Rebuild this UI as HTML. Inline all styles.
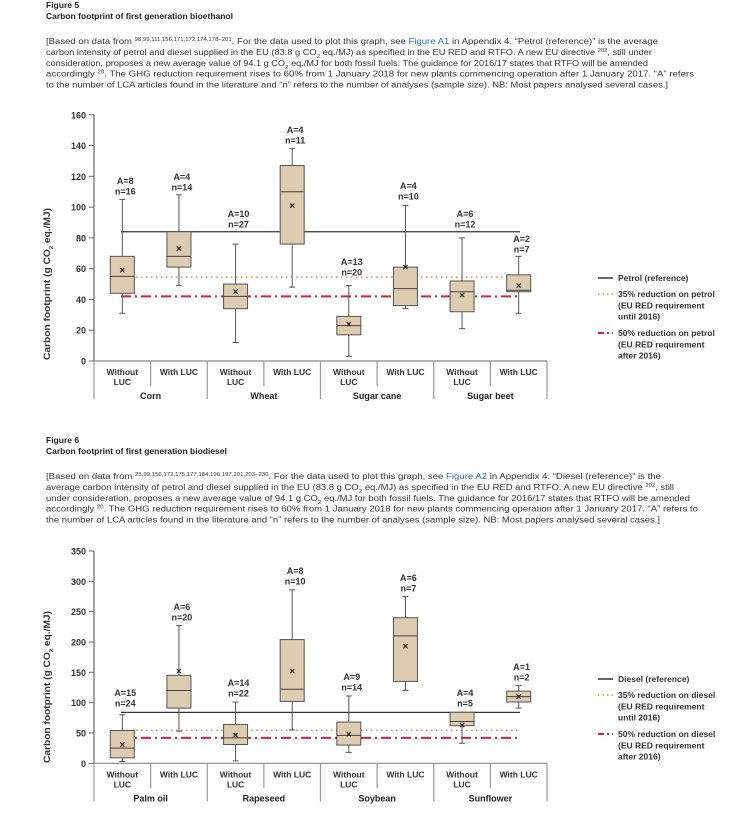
<!DOCTYPE html>
<html><head><meta charset="utf-8"><style>
html,body{margin:0;padding:0;background:#fff;}
svg{display:block;font-family:"Liberation Sans",sans-serif;}
</style></head><body>
<svg id="s" width="740" height="831" viewBox="0 0 740 831" xmlns="http://www.w3.org/2000/svg"></svg>
<script>
const S=document.getElementById('s');let h='';
function T(x,y,t,o){o=o||{};h+=`<text x="${x}" y="${y}" font-size="${o.fs||8}" font-weight="${o.fw||'normal'}" fill="${o.c||'#222'}" text-anchor="${o.a||'start'}"${o.tl?` textLength="${o.tl}" lengthAdjust="spacingAndGlyphs"`:''}${o.tr?` transform="${o.tr}"`:''}>${t}</text>`;}
function L(x1,y1,x2,y2,c,w,d){h+=`<line x1="${x1}" y1="${y1}" x2="${x2}" y2="${y2}" stroke="${c}" stroke-width="${w}"${d?` stroke-dasharray="${d}"`:''}/>`;}
const sup=s=>`<tspan font-size="5" baseline-shift="super">${s}</tspan>`;
const sub=s=>`<tspan font-size="5.5" baseline-shift="sub">${s}</tspan>`;
function header(y0,fig,title,lines,ends){
 T(46,y0+3,fig,{fw:'bold',fs:8.5});
 T(46,y0+14,title,{fw:'bold',fs:8.5});
 lines.forEach((l,i)=>T(46,y0+39+i*10.9,l,{fs:8,tl:ends[i]-46,c:'#333'}));
}
header(5,'Figure 5','Carbon footprint of first generation bioethanol',[
`[Based on data from ${sup('98,99,111,156,171,172,174,178–201')}. For the data used to plot this graph, see <tspan fill="#2a6fb8">Figure A1</tspan> in Appendix 4. “Petrol (reference)” is the average`,
`carbon intensity of petrol and diesel supplied in the EU (83.8 g CO${sub('2')} eq./MJ) as specified in the EU RED and RTFO. A new EU directive ${sup('202')}, still under`,
`consideration, proposes a new average value of 94.1 g CO${sub('2')} eq./MJ for both fossil fuels. The guidance for 2016/17 states that RTFO will be amended`,
`accordingly ${sup('20')}. The GHG reduction requirement rises to 60% from 1 January 2018 for new plants commencing operation after 1 January 2017. “A” refers`,
`to the number of LCA articles found in the literature and “n” refers to the number of analyses (sample size). NB: Most papers analysed several cases.]`],[658,652,648,694,668]);
header(440,'Figure 6','Carbon footprint of first generation biodiesel',[
`[Based on data from ${sup('25,99,156,172,175,177,184,190,197,201,203–230')}. For the data used to plot this graph, see <tspan fill="#2a6fb8">Figure A2</tspan> in Appendix 4. “Diesel (reference)” is the`,
`average carbon intensity of petrol and diesel supplied in the EU (83.8 g CO${sub('2')} eq./MJ) as specified in the EU RED and RTFO. A new EU directive ${sup('202')}, still`,
`under consideration, proposes a new average value of 94.1 g CO${sub('2')} eq./MJ for both fossil fuels. The guidance for 2016/17 states that RTFO will be amended`,
`accordingly ${sup('20')}. The GHG reduction requirement rises to 60% from 1 January 2018 for new plants commencing operation after 1 January 2017. “A” refers to`,
`the number of LCA articles found in the literature and “n” refers to the number of analyses (sample size). NB: Most papers analysed several cases.]`],[661,674,690,698,660]);

function chart(c){
 const X0=94,X1=547,cw=(X1-X0)/8,Y=v=>c.y0-(v)*c.k;
 const yTop=Y(c.max);
 L(X0,yTop,X0,c.y0,'#666',1.2);
 for(let v=0;v<=c.max;v+=c.step){L(89,Y(v),X0,Y(v),'#666',1);T(86,Y(v)+3.5,v,{a:'end',fs:9,fw:'bold',c:'#333'});}
 L(X0,c.y0,X1,c.y0,'#888',1.2);
 for(let i=0;i<=8;i++){const x=X0+i*cw;L(x,c.y0,x,i%2==0?c.y0+38:c.y0+25,'#999',1.2);}
 T(50,c.ly,`Carbon footprint (g CO${sub('2')} eq./MJ)`,{fw:'bold',fs:9.5,a:'middle',tl:152,tr:`rotate(-90 50 ${c.ly})`,c:'#333'});
 L(121,Y(84),520,Y(84),'#333',1.2);
 L(121,Y(54.5),520,Y(54.5),'#f08a3c',1.5,'1.5 3.5');
 L(121,Y(42),520,Y(42),'#e01b35',2,'10 4 2 4');
 c.d.forEach((d,i)=>{
  const cx=X0+cw*(i+0.5),bw=24;
  L(cx,Y(d[0]),cx,Y(d[1]),'#555',1);
  L(cx-3,Y(d[0]),cx+3,Y(d[0]),'#555',1);L(cx-3,Y(d[1]),cx+3,Y(d[1]),'#555',1);
  h+=`<rect x="${cx-bw/2}" y="${Y(d[3])}" width="${bw}" height="${Y(d[2])-Y(d[3])}" fill="#ddccb0" stroke="#555" stroke-width="1"/>`;
  L(cx-bw/2,Y(d[4]),cx+bw/2,Y(d[4]),'#444',1);
  T(cx,Y(d[5])+3.5,'×',{a:'middle',fs:10,fw:'bold',c:'#222'});
  T(cx+3,d[6],d[7],{a:'middle',fs:9,fw:'bold',c:'#333'});
  T(cx+3,d[6]+10.5,d[8],{a:'middle',fs:9,fw:'bold',c:'#333'});
  if(i%2==0){T(cx,c.y0+14,'Without',{a:'middle',fs:8.5,fw:'bold',c:'#333'});T(cx,c.y0+24,'LUC',{a:'middle',fs:8.5,fw:'bold',c:'#333'});}
  else T(cx,c.y0+14,'With LUC',{a:'middle',fs:8.5,fw:'bold',c:'#333'});
 });
 c.g.forEach((g,i)=>T(X0+cw*(2*i+1),c.y0+38,g,{a:'middle',fs:9,fw:'bold',c:'#222'}));
 const ly=c.leg;
 L(598,ly,613,ly,'#333',1.5);T(618,ly+3,c.ref,{fw:'bold',fs:8.5,c:'#333'});
 L(598,ly+16,613,ly+16,'#f08a3c',1.5,'1.5 3');
 ['35% reduction on '+c.f,'(EU RED requirement','until 2016)'].forEach((t,j)=>T(618,ly+19+j*11.3,t,{fw:'bold',fs:8.5,c:'#333'}));
 L(598,ly+55,613,ly+55,'#e01b35',2,'6 3 2 3');
 ['50% reduction on '+c.f,'(EU RED requirement','after 2016)'].forEach((t,j)=>T(618,ly+58+j*11.3,t,{fw:'bold',fs:8.5,c:'#333'}));
}
chart({y0:361,k:1.539,max:160,step:20,ly:284,leg:278,ref:'Petrol (reference)',f:'petrol',g:['Corn','Wheat','Sugar cane','Sugar beet'],d:[
[31,105,44,68,55,59,184,'A=8','n=16'],
[49,108,61,84,68,73,180,'A=4','n=14'],
[12,76,34,50,42,45,217,'A=10','n=27'],
[48,138,76,127,110,101,133,'A=4','n=11'],
[3,49,17,29,23,24,265,'A=13','n=20'],
[34,101,36,61,47,61,189,'A=4','n=10'],
[21,80,32,52,45,43,217,'A=6','n=12'],
[31,68,45,56,46,49,242,'A=2','n=7']]});
chart({y0:763.3,k:0.6066,max:350,step:50,ly:687,leg:679,ref:'Diesel (reference)',f:'diesel',g:['Palm oil','Rapeseed','Soybean','Sunflower'],d:[
[3,80,9,54,25,31,696,'A=15','n=24'],
[53,227,91,145,120,152,610,'A=6','n=20'],
[4,101,31,64,42,47,686,'A=14','n=22'],
[55,286,102,204,122,152,574,'A=8','n=10'],
[18,111,30,68,46,48,680,'A=9','n=14'],
[120,275,135,240,210,193,581,'A=6','n=7'],
[33,84,62,84,69,63,696,'A=4','n=5'],
[91,128,101,119,110,110,670,'A=1','n=2']]});
S.innerHTML=h;
</script>
</body></html>
